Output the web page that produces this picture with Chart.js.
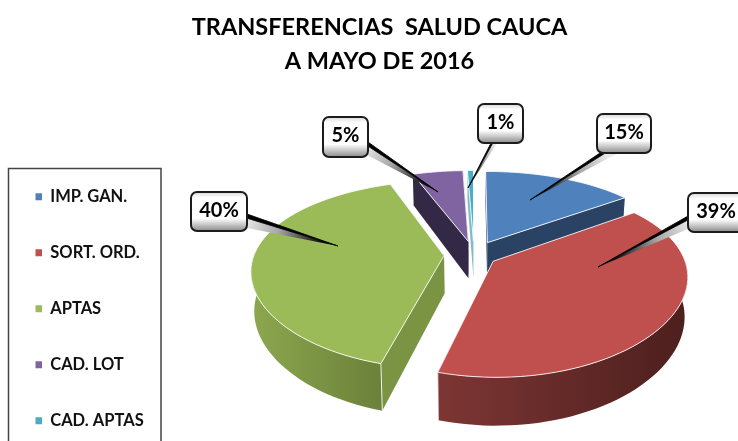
<!DOCTYPE html>
<html>
<head>
<meta charset="utf-8">
<style>html,body{margin:0;padding:0;background:#fff}canvas{display:block}</style>
<script src="https://cdn.jsdelivr.net/npm/chart.js@4"></script>
</head>
<body>
<canvas id="c" width="738" height="441"></canvas>
<script>
const titleLines = ['TRANSFERENCIAS  SALUD CAUCA', 'A MAYO DE 2016'];
const categories = ['IMP. GAN.', 'SORT. ORD.', 'APTAS', 'CAD. LOT', 'CAD. APTAS'];
const values = [15, 39.2, 40.2, 5, 0.6];

const topColors = ['#4f81bd', '#c0504d', '#9bbb59', '#8064a2', '#4bacc6'];
const explode = [30, 23, 30, 30, 30];
const wallColors = [['#2a4365', '#2a4365'], ['#7d3634', '#4c1f1d'], ['#8ca84f', '#6b8039'], ['#352a47', '#352a47'], ['#2e7f93', '#bcd8e0']];
const faceColors = ['#2a4365', '#7d3634', '#7a9444', '#332845', '#7fbccb'];

// 3D look: perspective projection of the arcs that Chart.js lays out
const tilt = 90 / 190, persp = 0.2, perspX = 0.15, depth = 38, shrink = 0.985;
Chart.ArcElement.prototype.draw = function (ctx) {
  const { x: cx, y: cy, startAngle, endAngle, outerRadius: R } = this;
  const i = this.$context ? this.$context.dataIndex : 0;
  const mid = (startAngle + endAngle) / 2;
  const e = this.options.offset / R;
  const u0 = e * Math.cos(mid), v0 = e * Math.sin(mid);
  const proj = (u, v, low) => {
    const w = 1 - persp * v;
    let px = cx + R * u / (1 - perspX * v);
    if (low) px = cx + (px - cx) * shrink;
    return [px, cy + R * tilt * v / w + (low ? depth / w : 0)];
  };
  const N = 60, rim = [];
  for (let k = 0; k <= N; k++) {
    const a = startAngle + (endAngle - startAngle) * k / N;
    rim.push({ a, u: u0 + Math.cos(a), v: v0 + Math.sin(a) });
  }
  const poly = pts => { ctx.beginPath(); pts.forEach((p, n) => n ? ctx.lineTo(p[0], p[1]) : ctx.moveTo(p[0], p[1])); ctx.closePath(); };
  ctx.save();
  ctx.lineJoin = 'round';
  // radial faces
  [rim[0], rim[N]].forEach(r => {
    poly([proj(u0, v0), proj(r.u, r.v), proj(r.u, r.v, true), proj(u0, v0, true)]);
    ctx.fillStyle = faceColors[i];
    ctx.fill();
  });
  // outer wall
  const vis = rim.filter(r => Math.sin(r.a) > -0.05);
  if (vis.length > 1) {
    const pts = vis.map(r => proj(r.u, r.v)).concat(vis.slice().reverse().map(r => proj(r.u, r.v, true)));
    const xs = pts.map(p => p[0]);
    const g = ctx.createLinearGradient(Math.min(...xs), 0, Math.max(...xs), 0);
    g.addColorStop(0, wallColors[i][0]);
    g.addColorStop(1, wallColors[i][1]);
    poly(pts);
    ctx.fillStyle = g;
    ctx.fill();
    ctx.strokeStyle = 'rgba(255,255,255,0.85)';
    ctx.lineWidth = 1;
    [vis[0], vis[vis.length - 1]].forEach(r => {
      if (Math.sin(r.a) > 0.5) {
        const a = proj(r.u, r.v), b = proj(r.u, r.v, true);
        ctx.beginPath(); ctx.moveTo(a[0], a[1]); ctx.lineTo(b[0], b[1]); ctx.stroke();
      }
    });
  }
  // top
  poly([proj(u0, v0)].concat(rim.map(r => proj(r.u, r.v))));
  ctx.fillStyle = this.options.backgroundColor;
  ctx.fill();
  ctx.strokeStyle = 'rgba(255,255,255,0.85)';
  ctx.lineWidth = 1;
  ctx.stroke();
  ctx.restore();
};

// callout boxes and pointer tips (annotation layout), one per category
const calloutLayout = [
  { box: [597, 114, 54, 39], tip: [530, 200], base: [[600, 153], [618, 153]] },
  { box: [688, 193, 56, 39], tip: [598, 267], base: [[688, 216], [688, 229]] },
  { box: [191, 192, 56, 39], tip: [338, 246], base: [[247, 214], [247, 228]] },
  { box: [323, 117, 45, 40], tip: [438, 192], base: [[368, 142], [367, 155]] },
  { box: [478, 104, 45, 39], tip: [468, 188], base: [[491, 143], [497, 143]] }
];

const pageLayout = {
  id: 'pageLayout',
  afterLayout(chart) {
    // centre the title and place legend / pie area as in the reference
    chart.titleBlock.left = 0;
    chart.titleBlock.right = 759;
    chart.legend.left = -4;
    chart.legend.top = 149;
    chart.legend.bottom = 600;
    Object.assign(chart.chartArea, { left: 269, right: 679, top: 50, bottom: 460, width: 410, height: 410 });
  },
  beforeDraw(chart) {
    const ctx = chart.ctx;
    ctx.save();
    ctx.strokeStyle = '#444';
    ctx.lineWidth = 1.5;
    ctx.strokeRect(8.5, 168.5, 152.5, 290);
    ctx.restore();
  },
  afterDraw(chart) {
    const ctx = chart.ctx;
    const total = values.reduce((a, b) => a + b, 0);
    ctx.save();
    calloutLayout.forEach((c, i) => {
      const [bx, by, bw, bh] = c.box;
      const [p, q] = c.base;
      const split = [p[0] + (q[0] - p[0]) * 0.3, p[1] + (q[1] - p[1]) * 0.3];
      // pointer: light side fading to black at the tip, black side along the other edge
      const g = ctx.createLinearGradient(split[0], split[1], c.tip[0], c.tip[1]);
      g.addColorStop(0, '#e8e8e8');
      g.addColorStop(0.35, '#a8a8a8');
      g.addColorStop(0.8, '#111');
      g.addColorStop(1, '#000');
      ctx.beginPath();
      ctx.moveTo(split[0], split[1]); ctx.lineTo(c.tip[0], c.tip[1]); ctx.lineTo(q[0], q[1]); ctx.closePath();
      ctx.fillStyle = g;
      ctx.fill();
      ctx.beginPath();
      ctx.moveTo(p[0], p[1]); ctx.lineTo(c.tip[0], c.tip[1]); ctx.lineTo(split[0], split[1]); ctx.closePath();
      ctx.fillStyle = '#000';
      ctx.fill();
      ctx.strokeStyle = '#000';
      ctx.lineWidth = 0.8;
      ctx.stroke();
      // box
      const bg = ctx.createLinearGradient(0, by, 0, by + bh);
      bg.addColorStop(0, '#d8d8d8');
      bg.addColorStop(0.14, '#ffffff');
      bg.addColorStop(0.68, '#ffffff');
      bg.addColorStop(0.92, '#a8a8a8');
      bg.addColorStop(1, '#8c8c8c');
      ctx.beginPath();
      ctx.roundRect(bx, by, bw, bh, 6);
      ctx.fillStyle = bg;
      ctx.fill();
      ctx.strokeStyle = '#1c1c1c';
      ctx.lineWidth = 2;
      ctx.stroke();
      ctx.fillStyle = '#000';
      ctx.font = 'bold 20px Lato';
      ctx.textAlign = 'center';
      ctx.textBaseline = 'middle';
      ctx.fillText(Math.round(values[i] / total * 100) + '%', bx + bw / 2, by + bh / 2 - 1);
    });
    ctx.restore();
  }
};

new Chart(document.getElementById('c'), {
  type: 'pie',
  plugins: [pageLayout],
  data: {
    labels: categories,
    datasets: [{ data: values, backgroundColor: topColors, borderWidth: 0, offset: explode, clip: false }]
  },
  options: {
    responsive: false,
    animation: false,
    plugins: {
      tooltip: { enabled: false },
      title: {
        display: true,
        text: titleLines,
        color: '#000',
        padding: { top: 10, bottom: 0 },
        font: { family: 'Lato', weight: 'bold', size: 23.5, lineHeight: 1.447 }
      },
      legend: {
        position: 'left',
        align: 'start',
        labels: {
          boxWidth: 6.5,
          boxHeight: 7,
          padding: 39.5,
          color: '#111',
          font: { family: 'Lato', weight: 'bold', size: 16.5 }
        }
      }
    }
  }
});
</script>
</body>
</html>
